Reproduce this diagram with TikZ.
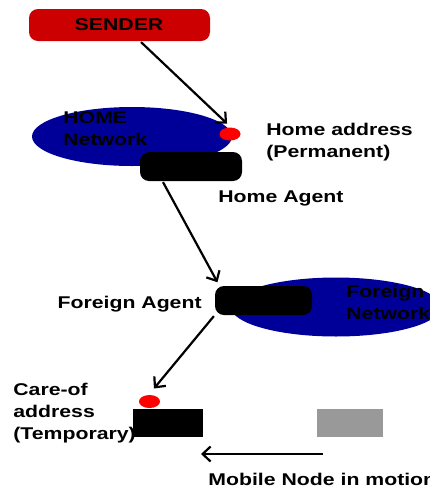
\documentclass[tikz,border=0pt]{standalone}
\usepackage{fontspec}
\setmainfont{Liberation Sans}
\usetikzlibrary{arrows.meta, shapes.geometric}

\definecolor{netblue}{RGB}{0,0,153}
\definecolor{sendred}{RGB}{204,0,0}
\definecolor{ghostgray}{RGB}{153,153,153}

\tikzset{
    lbl/.style={font=\bfseries\fontsize{17}{22}\selectfont, xscale=1.25, align=left, inner sep=0pt},
    net/.style={ellipse, fill=netblue, minimum width=200pt, minimum height=59pt, inner sep=0pt},
    agent/.style={fill=black, rounded corners=9pt, minimum width=100pt, minimum height=29pt, inner sep=0pt},
    addr/.style={ellipse, fill=red, minimum width=21pt, minimum height=13pt, inner sep=0pt},
    host/.style={minimum width=68pt, minimum height=28pt, inner sep=0pt},
}

\begin{document}
\begin{tikzpicture}[x=1pt, y=-1pt, >={Straight Barb[length=8pt, width=15pt]}, line width=2.2pt]
    \clip (0,0) rectangle (430,488);

    % sender
    \node[fill=sendred, rounded corners=9pt, minimum width=181pt, minimum height=32pt] (sender) at (119.5,25) {};
    \node[lbl] (sendertxt) at (119,25) {SENDER};

    % home side
    \node[net] (homenet) at (132,136.5) {};
    \node[lbl, anchor=west] (homenettxt) at (62,129) {HOME\\Network};
    \node[addr] (haddr) at (230,134) {};
    \node[agent, minimum width=102pt] (hagent) at (191,166.5) {};
    \node[lbl, anchor=west] (haddrtxt) at (265,142) {Home address\\(Permanent)};
    \node[lbl, anchor=base west] (hagenttxt) at (217,202) {Home Agent};

    % foreign side
    \node[net, minimum width=210pt] (fnet) at (336,307) {};
    \node[lbl, anchor=west] (fnettxt) at (345,302) {Foreign\\Network};
    \node[agent, minimum width=97pt] (fagent) at (263.5,300.5) {};
    \node[lbl, anchor=base east] (fagenttxt) at (203,308) {Foreign Agent};

    % mobile node
    \node[addr] (careof) at (149.5,401.5) {};
    \node[host, fill=black, minimum width=70pt] (mnode) at (168,423) {};
    \node[host, fill=ghostgray, minimum width=66pt] (ghost) at (350,423) {};
    \node[lbl, anchor=west] (careoftxt) at (12,413) {Care-of\\address\\(Temporary)};
    \node[lbl, anchor=base west] (motiontxt) at (207,485) {Mobile Node in motion};

    \coordinate (mstart) at (323,454);
    \coordinate (mend) at (201,454);

    \draw[->, shorten >=4pt] ([xshift=21.5pt]sender.south) -- (haddr.north);
    \draw[->, shorten >=3pt] ([xshift=-28pt]hagent.south) -- ([xshift=5pt]fagent.north west);
    \draw[->, shorten >=7pt] (fagent.south west) -- (careof.north);
    \draw[->] (mstart) -- (mend);
\end{tikzpicture}
\end{document}
